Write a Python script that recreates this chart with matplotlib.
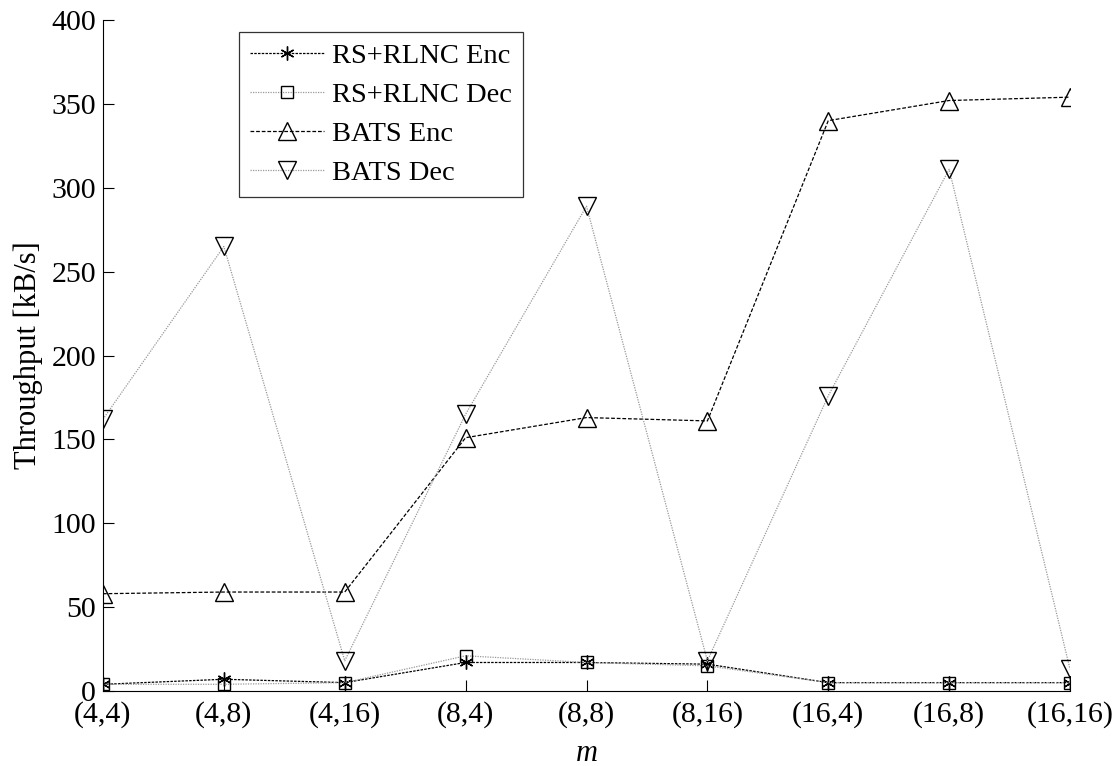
import matplotlib
matplotlib.use("Agg")
import matplotlib.pyplot as plt

# categories on the x axis
m_labels = ["(4,4)", "(4,8)", "(4,16)", "(8,4)", "(8,8)", "(8,16)", "(16,4)", "(16,8)", "(16,16)"]

# throughput in kB/s
rs_enc = [4, 7, 5, 17, 17, 16, 5, 5, 5]
rs_dec = [4, 4, 5, 21, 17, 15, 5, 5, 5]
bats_enc = [58, 59, 59, 151, 163, 161, 340, 352, 354]
bats_dec = [162, 265, 18, 165, 289, 18, 176, 311, 13]

plt.rcParams['font.family'] = ['Liberation Serif', 'DejaVu Serif']

fig = plt.figure(figsize=(11.18, 7.66), dpi=100)
ax = fig.add_axes([0.0921, 0.0979, 0.865, 0.876])

x = list(range(len(m_labels)))

# asterisk marker = 6 spokes, like matlab '*'
ax.plot(x, rs_enc, color='black', linestyle=(0, (2, 1)), linewidth=0.9,
        marker=(6, 2, 0), markersize=10, markerfacecolor='none', markeredgecolor='black',
        markeredgewidth=1.0, label='RS+RLNC Enc')
ax.plot(x, rs_dec, color='#999999', linestyle=(0, (1, 1)), linewidth=0.9,
        marker='s', markersize=9, markerfacecolor='none', markeredgecolor='black',
        markeredgewidth=1.0, label='RS+RLNC Dec')
ax.plot(x, bats_enc, color='black', linestyle=(0, (3, 1.5)), linewidth=0.9,
        marker='^', markersize=12.5, markerfacecolor='none', markeredgecolor='black',
        markeredgewidth=1.0, label='BATS Enc')
ax.plot(x, bats_dec, color='#999999', linestyle=(0, (1, 1)), linewidth=0.9,
        marker='v', markersize=12.5, markerfacecolor='none', markeredgecolor='black',
        markeredgewidth=1.0, label='BATS Dec')

ax.set_xlim(0, 8)
ax.set_ylim(0, 400)
ax.set_xticks(x)
ax.set_xticklabels(m_labels)
ax.set_yticks(range(0, 401, 50))
ax.tick_params(axis='both', direction='in', labelsize=21.5, length=8, width=0.8)
ax.tick_params(axis='x', pad=7)
ax.tick_params(axis='y', pad=5)

ax.spines['top'].set_visible(False)
ax.spines['right'].set_visible(False)
ax.spines['left'].set_linewidth(0.8)
ax.spines['bottom'].set_linewidth(0.8)

ax.set_xlabel("m", fontsize=22, style='italic', labelpad=8)
ax.set_ylabel("Throughput [kB/s]", fontsize=22, labelpad=6)

leg = ax.legend(loc='upper left', bbox_to_anchor=(0.1407, 0.982), borderaxespad=0,
                fontsize=20.5, frameon=True, fancybox=False, edgecolor='black',
                handlelength=2.6, handletextpad=0.25, borderpad=0.4, labelspacing=0.45)
leg.get_frame().set_linewidth(0.9)

plt.savefig("out.png", dpi=100)
